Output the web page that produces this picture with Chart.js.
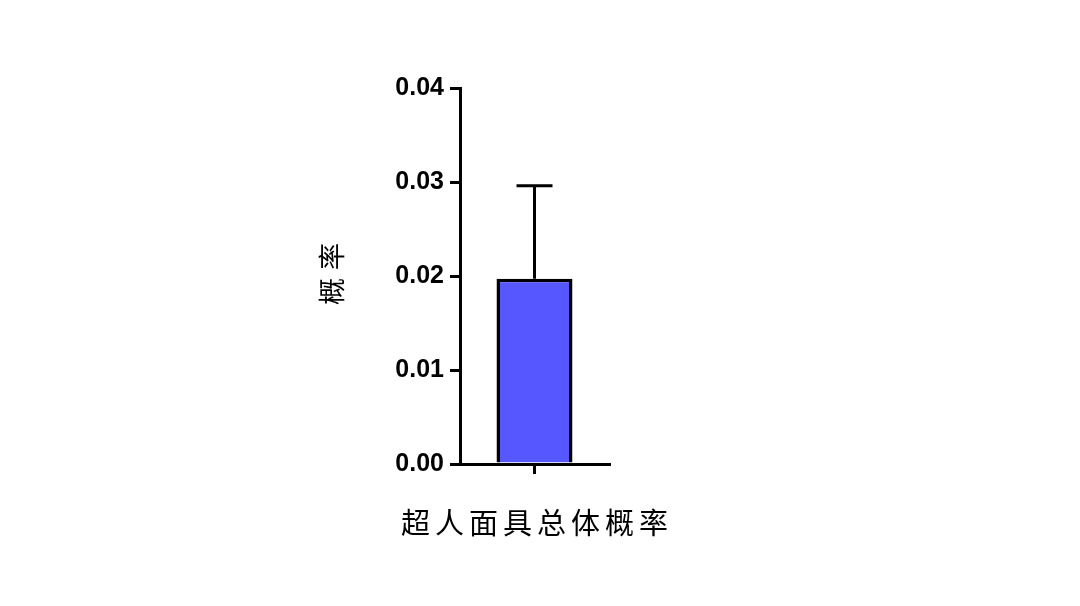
<!DOCTYPE html>
<html>
<head>
<meta charset="utf-8">
<script src="https://cdn.jsdelivr.net/npm/chart.js@4/dist/chart.umd.min.js"></script>
<style>
  html, body { margin: 0; padding: 0; background: #fff; }
  #wrap { width: 1080px; height: 606px; }
</style>
</head>
<body>
<div id="wrap"><canvas id="chart"></canvas></div>
<script>
// ─── Data ─────────────────────────────────────────────────────────────────────
const categories = ['超人面具总体概率'];
const meanValues = [0.0197];
const errorUpper = [0.0099];
const yTicks = [0, 0.01, 0.02, 0.03, 0.04];
const yAxisTitle = '概率';

// ─── Error bar plugin (upper whisker only) ────────────────────────────────────
const errorBarPlugin = {
    id: 'errorBars',
    afterDatasetsDraw(chart) {
        const { ctx, scales: { x, y } } = chart;
        const meta = chart.getDatasetMeta(0);
        ctx.save();
        ctx.strokeStyle = '#000';
        ctx.lineWidth = 3;
        meta.data.forEach((bar, i) => {
            const cx = x.getPixelForValue(i);
            const yTop = y.getPixelForValue(meanValues[i] + errorUpper[i]);
            const yBase = y.getPixelForValue(meanValues[i]);
            ctx.beginPath();
            ctx.moveTo(cx, yBase);
            ctx.lineTo(cx, yTop);
            ctx.moveTo(cx - 18, yTop);
            ctx.lineTo(cx + 18, yTop);
            ctx.stroke();
        });
        ctx.restore();
    }
};

// ─── Axis titles with wide letter spacing ─────────────────────────────────────
const axisTitlePlugin = {
    id: 'axisTitles',
    afterDraw(chart) {
        const { ctx, scales: { x, y } } = chart;
        ctx.save();
        ctx.fillStyle = '#000';
        ctx.textBaseline = 'middle';
        ctx.textAlign = 'center';

        // x title, centred under the bar
        ctx.font = '29px "Noto Sans CJK SC"';
        ctx.letterSpacing = '5px';
        ctx.fillText(categories[0], (x.left + x.right) / 2 + 2.5, 523);

        // y title, rotated
        ctx.font = '27px "Noto Sans CJK SC"';
        ctx.letterSpacing = '8px';
        ctx.translate(332, 274);
        ctx.rotate(-Math.PI / 2);
        ctx.fillText(yAxisTitle, 4, 0);
        ctx.restore();
    }
};

// ─── Chart ────────────────────────────────────────────────────────────────────
new Chart(document.getElementById('chart'), {
    type: 'bar',
    data: {
        labels: categories,
        datasets: [{
            data: meanValues,
            backgroundColor: '#5757ff',
            borderColor: '#000',
            borderWidth: 3.5,
            borderSkipped: 'start',
            barPercentage: 0.51,
            categoryPercentage: 1
        }]
    },
    options: {
        responsive: true,
        maintainAspectRatio: false,
        animation: false,
        layout: { padding: { left: 300, right: 471, top: 88, bottom: 60 } },
        plugins: { legend: { display: false }, tooltip: { enabled: false } },
        scales: {
            x: {
                offset: true,
                grid: { display: true, drawOnChartArea: false, offset: false, color: '#000', lineWidth: 3, tickLength: 10 },
                border: { display: true, color: '#000', width: 3, z: 1 },
                ticks: { display: false },
                afterFit(scale) { scale.height = 82; }
            },
            y: {
                min: 0,
                max: 0.04,
                afterBuildTicks(scale) { scale.ticks = yTicks.map(v => ({ value: v })); },
                grid: { display: true, drawOnChartArea: false, color: '#000', lineWidth: 3, tickLength: 10 },
                border: { display: true, color: '#000', width: 3 },
                ticks: {
                    color: '#000',
                    padding: 6,
                    font: { family: '"Liberation Sans", Arial, sans-serif', size: 25, weight: 'bold' },
                    callback: v => v.toFixed(2)
                },
                afterFit(scale) { scale.width = 160; }
            }
        }
    },
    plugins: [errorBarPlugin, axisTitlePlugin]
});
</script>
</body>
</html>
